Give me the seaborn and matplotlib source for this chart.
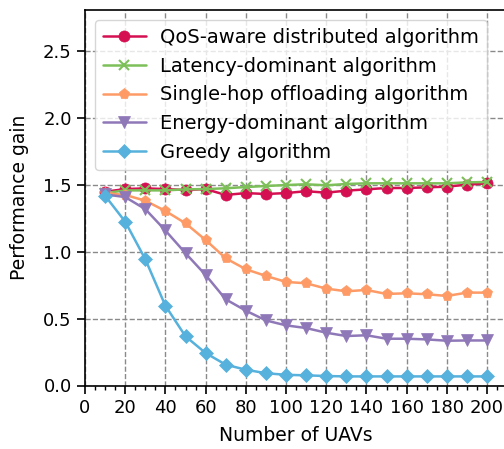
import numpy as np
import pandas as pd
import matplotlib
matplotlib.use("Agg")
import matplotlib.pyplot as plt
from matplotlib.ticker import MultipleLocator
import seaborn as sns

# Number of UAVs on the x axis
num_uavs = [10, 20, 30, 40, 50, 60, 70, 80, 90, 100,
            110, 120, 130, 140, 150, 160, 170, 180, 190, 200]

# Performance gain of each algorithm
qos_aware = [1.45, 1.47, 1.475, 1.47, 1.463, 1.47, 1.426, 1.44, 1.433, 1.44,
             1.454, 1.443, 1.458, 1.468, 1.478, 1.478, 1.483, 1.488, 1.503, 1.513]
latency_dom = [1.44, 1.46, 1.46, 1.46, 1.468, 1.47, 1.476, 1.485, 1.493, 1.50,
               1.506, 1.498, 1.508, 1.513, 1.513, 1.513, 1.513, 1.513, 1.52, 1.523]
single_hop = [1.44, 1.426, 1.383, 1.306, 1.214, 1.089, 0.952, 0.87, 0.82, 0.775,
              0.765, 0.725, 0.705, 0.715, 0.685, 0.69, 0.683, 0.67, 0.695, 0.695]
energy_dom = [1.43, 1.41, 1.32, 1.16, 0.99, 0.827, 0.645, 0.56, 0.487, 0.45,
              0.43, 0.395, 0.37, 0.376, 0.35, 0.35, 0.345, 0.335, 0.337, 0.337]
greedy = [1.42, 1.226, 0.945, 0.597, 0.368, 0.243, 0.156, 0.118, 0.092, 0.08,
          0.076, 0.071, 0.068, 0.068, 0.068, 0.068, 0.068, 0.068, 0.068, 0.068]

series = [
    ("QoS-aware distributed algorithm", qos_aware, "#d51052", "o", 8),
    ("Latency-dominant algorithm", latency_dom, "#7dc05a", "x", 7),
    ("Single-hop offloading algorithm", single_hop, "#fd9a65", "p", 8),
    ("Energy-dominant algorithm", energy_dom, "#8f78b8", "v", 8),
    ("Greedy algorithm", greedy, "#56b1dc", "D", 7.5),
]

sns.set_style("ticks")
plt.rcParams["font.family"] = ["DejaVu Sans"]
plt.rcParams.update({
    "text.color": "black",
    "axes.labelcolor": "black",
    "xtick.color": "black",
    "ytick.color": "black",
})

fig = plt.figure(figsize=(5.04, 4.49), dpi=100)
ax = fig.add_axes([85 / 504, (449 - 385.5) / 449, 210 * 2.01 / 504, 375.5 / 449])

for name, vals, color, marker, ms in series:
    df = pd.DataFrame({"x": num_uavs, "y": vals})
    sns.lineplot(data=df, x="x", y="y", ax=ax, color=color, marker=marker,
                 markersize=ms, linewidth=1.8, markeredgecolor=color,
                 markeredgewidth=1.5 if marker == "x" else 0.5, label=name)

ax.set_xlim(0, 210)
ax.set_ylim(0, 2.81)
ax.xaxis.set_major_locator(MultipleLocator(20))
ax.xaxis.set_minor_locator(MultipleLocator(5))
ax.yaxis.set_major_locator(MultipleLocator(0.5))
ax.tick_params(axis="both", which="major", labelsize=13, length=5.5, width=1.2,
               pad=4, color="black", labelcolor="black")
ax.tick_params(axis="x", which="minor", length=3, width=1.0, color="black")
ax.grid(True, which="major", linestyle="--", color="#8a8a8a", linewidth=1.0)
for s in ax.spines.values():
    s.set_color("black")
    s.set_linewidth(1.2)

ax.set_xlabel("Number of UAVs", fontsize=13.5, color="black", labelpad=7)
ax.set_ylabel("Performance gain", fontsize=13.5, color="black", labelpad=10)

leg = ax.legend(loc="upper left", bbox_to_anchor=(0.0237, 0.973), borderaxespad=0,
                fontsize=14, frameon=True, framealpha=0.8, edgecolor="#cccccc",
                handlelength=2.2, handletextpad=0.75)
for t in leg.get_texts():
    t.set_color("black")

fig.savefig("out.png", dpi=100)
